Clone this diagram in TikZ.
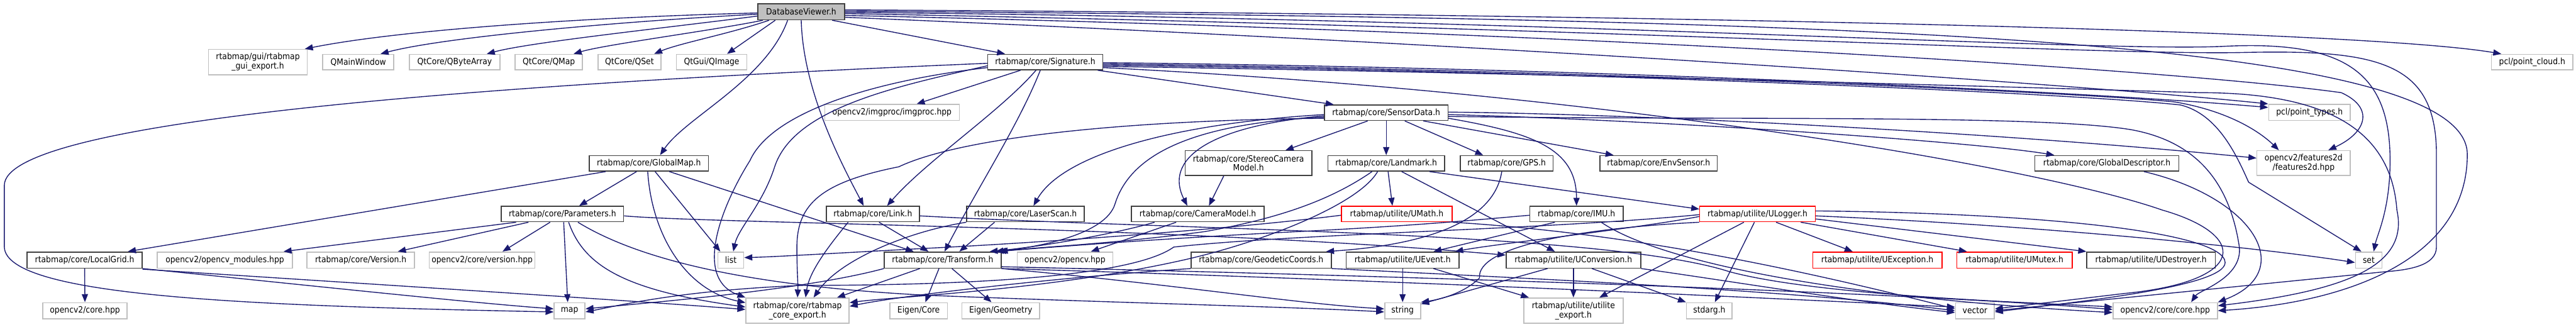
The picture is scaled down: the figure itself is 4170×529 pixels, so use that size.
\documentclass[tikz,border=0pt]{standalone}
\usepackage{fontspec}
\setmainfont{DejaVu Sans Condensed}
\usetikzlibrary{arrows.meta}
\definecolor{edgec}{HTML}{191970}
\definecolor{boxd}{HTML}{404040}
\definecolor{boxl}{HTML}{BFBFBF}
\definecolor{rootf}{HTML}{BFBFBF}
\definecolor{boxr}{HTML}{FF0000}
\newcommand{\nf}{\fontsize{14}{15}\selectfont}
\tikzset{
  box/.style={rectangle, draw=boxd, line width=1.6pt, fill=white, inner sep=0pt, minimum height=25pt, font=\nf, align=center, text=black},
  ext/.style={box, draw=boxl},
  redbox/.style={box, draw=boxr},
  rootbox/.style={box, fill=rootf},
  e/.style={draw=edgec, line width=1.4pt, -{Triangle[length=13pt,width=10pt]}, fill=none},
}
\begin{document}
\begin{tikzpicture}[x=1pt,y=-1pt]
\fill[white] (0,0) rectangle (4170,529);
\useasboundingbox (0,0) rectangle (4170,529);
% row 0
\node[rootbox, minimum width=140pt, minimum height=26pt] (DV) at (1297,19) {DatabaseViewer.h};
% row 1
\node[ext, minimum width=160pt, minimum height=41pt] (gui) at (417.5,100.5) {rtabmap/gui/rtabmap\\\_gui\_export.h};
\node[ext, minimum width=115pt] (qmw) at (580,100.5) {QMainWindow};
\node[ext, minimum width=147pt] (qba) at (736,100.5) {QtCore/QByteArray};
\node[ext, minimum width=109pt] (qmap) at (888.5,100.5) {QtCore/QMap};
\node[ext, minimum width=102pt] (qset) at (1019,100.5) {QtCore/QSet};
\node[ext, minimum width=114pt] (qimg) at (1152,100.5) {QtGui/QImage};
\node[box, minimum width=186pt] (sig) at (1692,100.5) {rtabmap/core/Signature.h};
\node[ext, minimum width=132pt] (pcloud) at (4099,100.5) {pcl/point\_cloud.h};
% row 2
\node[ext, minimum width=218pt, minimum height=26pt] (imgproc) at (1444,182) {opencv2/imgproc/imgproc.hpp};
\node[box, minimum width=200pt] (sd) at (2244,182.5) {rtabmap/core/SensorData.h};
\node[ext, minimum width=132pt, minimum height=26pt] (ptypes) at (3738.5,182) {pcl/point\_types.h};
% row 3
\node[box, minimum width=193pt] (gmap) at (1050.5,264.5) {rtabmap/core/GlobalMap.h};
\node[box, minimum width=205pt, minimum height=40pt] (stereo) at (2021,264) {rtabmap/core/StereoCamera\\Model.h};
\node[box, minimum width=189pt] (landmark) at (2244,264.5) {rtabmap/core/Landmark.h};
\node[box, minimum width=150pt] (gps) at (2439,264.5) {rtabmap/core/GPS.h};
\node[box, minimum width=190pt] (env) at (2685,264.5) {rtabmap/core/EnvSensor.h};
\node[box, minimum width=233pt] (gdesc) at (3410.5,264.5) {rtabmap/core/GlobalDescriptor.h};
\node[ext, minimum width=151pt, minimum height=40pt] (feat2d) at (3729,264) {opencv2/features2d\\/features2d.hpp};
% row 4
\node[box, minimum width=198pt] (params) at (910.5,346.5) {rtabmap/core/Parameters.h};
\node[box, minimum width=151pt] (link) at (1413,346.5) {rtabmap/core/Link.h};
\node[box, minimum width=190pt] (laser) at (1660,346.5) {rtabmap/core/LaserScan.h};
\node[box, minimum width=215pt] (cam) at (1939,346.5) {rtabmap/core/CameraModel.h};
\node[redbox, minimum width=179pt] (umath) at (2261,346.5) {rtabmap/utilite/UMath.h};
\node[box, minimum width=151pt] (imu) at (2552,346.5) {rtabmap/core/IMU.h};
\node[redbox, minimum width=187pt] (ulogger) at (2845,346.5) {rtabmap/utilite/ULogger.h};
% row 5
\node[box, minimum width=186pt, minimum height=26pt] (localgrid) at (137,421) {rtabmap/core/LocalGrid.h};
\node[ext, minimum width=219pt, minimum height=26pt] (opmod) at (364,421) {opencv2/opencv\_modules.hpp};
\node[ext, minimum width=174pt, minimum height=26pt] (version) at (584,421) {rtabmap/core/Version.h};
\node[ext, minimum width=171pt, minimum height=26pt] (verhpp) at (780.5,421) {opencv2/core/version.hpp};
\node[ext, minimum width=42pt, minimum height=26pt] (list) at (1183,421) {list};
\node[box, minimum width=189pt, minimum height=26pt] (transform) at (1526,421) {rtabmap/core/Transform.h};
\node[ext, minimum width=155pt, minimum height=26pt] (opencv) at (1724,421) {opencv2/opencv.hpp};
\node[box, minimum width=227pt, minimum height=26pt] (geo) at (2041.5,421) {rtabmap/core/GeodeticCoords.h};
\node[box, minimum width=183pt, minimum height=26pt] (uevent) at (2270.5,421) {rtabmap/utilite/UEvent.h};
\node[box, minimum width=218pt, minimum height=26pt] (uconv) at (2547,421) {rtabmap/utilite/UConversion.h};
\node[redbox, minimum width=209pt, minimum height=26pt] (uexc) at (3039,421) {rtabmap/utilite/UException.h};
\node[redbox, minimum width=187pt, minimum height=26pt] (umutex) at (3261,421) {rtabmap/utilite/UMutex.h};
\node[box, minimum width=208pt, minimum height=26pt] (udest) at (3482,421) {rtabmap/utilite/UDestroyer.h};
\node[ext, minimum width=43pt, minimum height=26pt] (set) at (3834.5,421) {set};
% row 6
\node[ext, minimum width=136pt, minimum height=26pt] (corehpp) at (137.5,503) {opencv2/core.hpp};
\node[ext, minimum width=50pt, minimum height=26pt] (map) at (922,503) {map};
\node[ext, minimum width=167pt, minimum height=41pt] (coreexp) at (1291,503) {rtabmap/core/rtabmap\\\_core\_export.h};
\node[ext, minimum width=93pt, minimum height=26pt] (eigcore) at (1487,503) {Eigen/Core};
\node[ext, minimum width=126pt, minimum height=26pt] (eiggeo) at (1620,503) {Eigen/Geometry};
\node[ext, minimum width=58pt, minimum height=26pt] (string) at (2270.5,503) {string};
\node[ext, minimum width=161pt, minimum height=41pt] (utexp) at (2547,503) {rtabmap/utilite/utilite\\\_export.h};
\node[ext, minimum width=74pt, minimum height=26pt] (stdarg) at (2767,503) {stdarg.h};
\node[ext, minimum width=63pt, minimum height=26pt] (vector) at (3197,503) {vector};
\node[ext, minimum width=169pt, minimum height=26pt] (cvcore) at (3505,503) {opencv2/core/core.hpp};

% ---- DatabaseViewer.h
\draw[e] ([yshift=-2pt]DV.west) .. controls (950,28) and (650,48) .. ([xshift=76pt]gui.north);
\draw[e] ([yshift=-4pt]DV.west) .. controls (1000,35) and (720,60) .. ([xshift=36pt]qmw.north);
\draw[e] ([yshift=-7pt]DV.west) .. controls (1080,45) and (860,68) .. ([xshift=52pt]qba.north);
\draw[e] ([xshift=-62pt]DV.south) .. controls (1150,50) and (980,72) .. ([xshift=40pt]qmap.north);
\draw[e] ([xshift=-52pt]DV.south) .. controls (1180,55) and (1100,70) .. ([xshift=40pt]qset.north);
\draw[e] ([xshift=-42pt]DV.south) -- ([xshift=25pt]qimg.north);
\draw[e] ([xshift=50pt]DV.south) -- ([xshift=-65pt]sig.north);
\draw[e] ([xshift=-22pt]DV.south) .. controls (1240,130) and (1110,190) .. ([xshift=18pt]gmap.north);
\draw[e] (DV.south) .. controls (1300,150) and (1365,270) .. ([xshift=-15pt]link.north);
\draw[e] ([yshift=3pt]DV.east) .. controls (2500,22) and (3800,45) .. ([xshift=-50pt]pcloud.north);
\draw[e] ([yshift=1pt]DV.east) .. controls (3000,30) and (3994,60) .. (3994,250) .. controls (3994,420) and (3800,490) .. (cvcore.east);
\draw[e] ([yshift=-1pt]DV.east) .. controls (2500,30) and (3400,85) .. (3600,75) .. controls (3800,65) and (3869,120) .. (3869,260) .. controls (3869,340) and (3848,380) .. ([xshift=8pt]set.north);
\draw[e] ([yshift=-3pt]DV.east) .. controls (2600,45) and (3400,90) .. (3630,85) .. controls (3850,80) and (3944,100) .. (3944,250) -- (3944,400) .. controls (3944,430) and (3900,437) .. (3860,440) -- (vector.east);
\draw[e] ([yshift=-6pt]DV.east) .. controls (2500,50) and (3500,110) .. (3790,150) .. controls (3845,175) and (3830,215) .. ([xshift=40pt]feat2d.north);
\draw[e] ([yshift=-9pt]DV.east) .. controls (2500,75) and (3400,140) .. (ptypes.north west);

% ---- Signature.h
\draw[e] ([xshift=-40pt]sig.south) -- ([xshift=40pt]imgproc.north);
\draw[e] ([xshift=85pt]sig.south) -- ([xshift=-85pt]sd.north);
\draw[e] ([yshift=-2pt]sig.west) .. controls (700,140) and (8,200) .. (7,300) -- (7,400) .. controls (10,480) and (400,495) .. ([yshift=-2pt]map.west);
\draw[e] ([yshift=-6pt]sig.west) .. controls (1450,140) and (1285,175) .. (1254,270) .. controls (1235,330) and (1195,370) .. ([xshift=4pt]list.north);
\draw[e] ([yshift=-9pt]sig.west) .. controls (1420,130) and (1250,180) .. (1214,260) .. controls (1170,330) and (1120,450) .. (coreexp.north west);
\draw[e] ([xshift=-15pt]sig.south) .. controls (1620,180) and (1500,260) .. ([xshift=23pt]link.north);
\draw[e] ([xshift=-8pt]sig.south) .. controls (1650,200) and (1585,300) .. ([xshift=3pt]transform.north);
\draw[e] ([yshift=-1pt]sig.east) .. controls (2600,110) and (3400,150) .. ([yshift=8pt]ptypes.west);
\draw[e] ([yshift=-3pt]sig.east) .. controls (2500,112) and (3350,148) .. (3520,165) .. controls (3610,180) and (3660,215) .. ([xshift=-40pt]feat2d.north);
\draw[e] ([yshift=-5pt]sig.east) .. controls (2500,114) and (3350,150) .. (3530,170) .. controls (3590,185) and (3620,250) .. (3640,295) -- ([xshift=-12pt]set.north);
\draw[e] ([yshift=-7pt]sig.east) .. controls (2500,118) and (3400,145) .. (3560,150) .. controls (3750,150) and (3870,200) .. (3880,340) .. controls (3900,430) and (3800,470) .. ([yshift=8pt]cvcore.east);
\draw[e] ([yshift=-9pt]sig.east) .. controls (2600,150) and (3300,270) .. (3500,340) .. controls (3640,380) and (3640,455) .. (3440,475) -- ([yshift=3pt]vector.east);

% ---- SensorData.h
\draw[e] ([xshift=-30pt]sd.south) -- ([xshift=60pt]stereo.north);
\draw[e] (sd.south) -- (landmark.north);
\draw[e] ([xshift=30pt]sd.south) -- ([xshift=-38pt]gps.north);
\draw[e] ([xshift=60pt]sd.south) -- ([xshift=-73pt]env.north);
\draw[e] ([yshift=-9pt]sd.east) .. controls (2480,215) and (2552,240) .. (imu.north);
\draw[e] ([yshift=-3pt]sd.west) .. controls (1900,200) and (1720,250) .. ([xshift=13pt]laser.north);
\draw[e] ([yshift=-5pt]sd.west) .. controls (1950,205) and (1885,260) .. ([xshift=-17pt]cam.north);
\draw[e] ([yshift=-7pt]sd.west) .. controls (1930,200) and (1830,250) .. (1805,330) .. controls (1790,380) and (1680,400) .. ([xshift=-10pt]transform.north east);
\draw[e] ([yshift=-9pt]sd.west) .. controls (1800,195) and (1550,225) .. (1455,270) .. controls (1330,295) and (1290,330) .. (1290,400) .. controls (1290,440) and (1292,460) .. (coreexp.north);
\draw[e] ([yshift=-3pt]sd.east) .. controls (2700,195) and (3200,230) .. ([xshift=-85pt]gdesc.north);
\draw[e] ([yshift=1pt]sd.east) .. controls (2700,185) and (3300,220) .. ([yshift=8pt]feat2d.west);
\draw[e] ([yshift=-6pt]sd.east) .. controls (2800,195) and (3300,185) .. (3450,210) .. controls (3560,230) and (3610,300) .. (3625,400) .. controls (3630,450) and (3560,470) .. ([xshift=42pt]cvcore.north);

% ---- GlobalMap.h
\draw[e] ([xshift=-70pt]gmap.south) -- ([xshift=70pt]localgrid.north);
\draw[e] ([xshift=-20pt]gmap.south) -- ([xshift=27pt]params.north);
\draw[e] ([xshift=10pt]gmap.south) -- ([xshift=-17pt]list.north);
\draw[e] ([xshift=-2pt]gmap.south) .. controls (1055,380) and (1110,470) .. ([yshift=13pt]coreexp.west);
\draw[e] ([xshift=33pt]gmap.south) -- ([xshift=-47pt]transform.north);

% ---- Parameters.h
\draw[e] ([xshift=-75pt]params.south) -- ([xshift=95pt]opmod.north);
\draw[e] ([xshift=-55pt]params.south) -- ([xshift=60pt]version.north);
\draw[e] ([xshift=-20pt]params.south) -- ([xshift=33pt]verhpp.north);
\draw[e] ([xshift=2pt]params.south) -- ([xshift=-3pt]map.north);
\draw[e] ([xshift=10pt]params.south) .. controls (945,430) and (1010,470) .. ([yshift=6pt]coreexp.west);
\draw[e] ([yshift=-3pt]params.east) .. controls (1150,362) and (1900,366) .. ([yshift=8pt]uconv.west);
\draw[e] ([xshift=25pt]params.south) .. controls (1050,430) and (1250,465) .. (1500,478) .. controls (1800,490) and (2100,497) .. ([yshift=-2pt]string.west);

% ---- LocalGrid.h
\draw[e] (localgrid.south) -- (corehpp.north);
\draw[e] (localgrid.south east) .. controls (500,462) and (760,490) .. ([yshift=3pt]map.west);
\draw[e] ([yshift=-1pt]localgrid.south east) .. controls (600,460) and (1000,485) .. ([yshift=2pt]coreexp.west);

% ---- Link.h
\draw[e] ([xshift=-40pt]link.south) .. controls (1340,400) and (1310,440) .. ([xshift=13pt]coreexp.north);
\draw[e] ([xshift=10pt]link.south) -- ([xshift=-23pt]transform.north);
\draw[e] ([yshift=-3pt]link.east) .. controls (1900,372) and (2600,375) .. (2800,440) .. controls (2950,480) and (3300,490) .. ([yshift=6pt]cvcore.west);

% ---- LaserScan.h
\draw[e] (laser.south west) .. controls (1470,375) and (1360,420) .. ([xshift=26pt]coreexp.north);
\draw[e] ([xshift=-50pt]laser.south) -- ([xshift=27pt]transform.north);

% ---- CameraModel.h / StereoCameraModel.h
\draw[e] ([xshift=-70pt]cam.south) .. controls (1800,380) and (1680,400) .. ([xshift=76pt]transform.north);
\draw[e] ([xshift=-35pt]cam.south) -- ([xshift=42pt]opencv.north);
\draw[e] ([xshift=-40pt]stereo.south) -- ([xshift=18pt]cam.north);

% ---- Landmark.h
\draw[e] ([xshift=3pt]landmark.south) -- ([xshift=-7pt]umath.north);
\draw[e] ([xshift=25pt]landmark.south) -- ([xshift=-30pt]uconv.north);
\draw[e] ([xshift=70pt]landmark.south) -- ([yshift=8pt]ulogger.west);
\draw[e] ([xshift=-23pt]landmark.south) .. controls (2160,320) and (2080,352) .. (1950,375) .. controls (1800,395) and (1680,400) .. ([xshift=-3pt]transform.north east);
\draw[e] ([xshift=-14pt]landmark.south) .. controls (2200,330) and (2050,390) .. (1920,420) .. controls (1700,470) and (1450,480) .. ([yshift=13pt]coreexp.east);

% ---- GPS.h
\draw[e] ([xshift=-8pt]gps.south) .. controls (2420,350) and (2330,395) .. ([xshift=105pt]geo.north);

% ---- IMU.h
\draw[e] ([xshift=-35pt]imu.south) -- ([xshift=50pt]uevent.north);
\draw[e] ([yshift=-2pt]imu.west) .. controls (2400,355) and (2300,365) .. (2100,375) .. controls (1900,385) and (1700,400) .. ([xshift=-6pt]transform.north east);
\draw[e] ([xshift=40pt]imu.south) .. controls (2680,420) and (2950,480) .. ([yshift=-3pt]cvcore.west);

% ---- GeodeticCoords.h
\draw[e] (geo.south west) .. controls (1700,450) and (1450,480) .. ([yshift=7pt]coreexp.east);
\draw[e] (geo.south east) .. controls (2500,452) and (2900,470) .. (vector.west);

% ---- UMath.h
\draw[e] ([yshift=-2pt]umath.west) .. controls (2000,370) and (1700,392) .. (1500,402) .. controls (1350,410) and (1250,416) .. ([yshift=4pt]list.east);
\draw[e] (umath.south east) .. controls (2600,375) and (2850,420) .. ([yshift=3pt]vector.west);

% ---- ULogger.h
\draw[e] ([xshift=30pt]ulogger.south) -- ([xshift=-40pt]uexc.north);
\draw[e] ([xshift=70pt]ulogger.south) -- ([xshift=-77pt]umutex.north);
\draw[e] ([yshift=-8pt]ulogger.east) -- (udest.north west);
\draw[e] ([yshift=-4pt]ulogger.west) .. controls (2650,370) and (2420,395) .. ([xshift=85pt]uevent.north);
\draw[e] (ulogger.south west) .. controls (2550,370) and (2390,400) .. (2395,450) .. controls (2370,475) and (2330,485) .. (string.north east);
\draw[e] ([xshift=-22pt]ulogger.south) -- ([xshift=42pt]utexp.north);
\draw[e] ([xshift=-5pt]ulogger.south) -- ([xshift=9pt]stdarg.north);
\draw[e] ([yshift=5pt]ulogger.east) .. controls (3300,345) and (3600,375) .. (3602,425) .. controls (3602,465) and (3350,490) .. ([yshift=-2pt]vector.east);
\draw[e] ([yshift=-3pt]ulogger.east) .. controls (3300,365) and (3650,400) .. ([yshift=-4pt]set.west);
\draw[e] ([yshift=-1pt]ulogger.west) .. controls (2500,372) and (2100,378) .. (1900,400) .. controls (1830,450) and (1550,462) .. (1300,462) .. controls (1100,470) and (1000,495) .. ([yshift=-2pt]map.east);

% ---- UEvent.h
\draw[e] (uevent.south) -- (string.north);
\draw[e] ([xshift=50pt]uevent.south) -- ([xshift=-72pt]utexp.north);

% ---- UConversion.h
\draw[e] ([xshift=-42pt]uconv.south) -- ([yshift=-3pt]string.north east);
\draw[e] (uconv.south) -- (utexp.north);
\draw[e] ([xshift=30pt]uconv.south) -- (stdarg.north west);
\draw[e] (uconv.south east) .. controls (2800,455) and (3000,488) .. ([yshift=-3pt]vector.west);

% ---- Transform.h
\draw[e] ([xshift=-37pt]transform.south) -- ([xshift=64pt]coreexp.north);
\draw[e] ([xshift=-6pt]transform.south) -- ([xshift=11pt]eigcore.north);
\draw[e] ([xshift=15pt]transform.south) -- ([xshift=-15pt]eiggeo.north);
\draw[e] (transform.south west) .. controls (1300,470) and (1050,490) .. ([yshift=3pt]map.east);
\draw[e] (transform.south east) .. controls (1900,460) and (2100,492) .. ([yshift=3pt]string.west);
\draw[e] (transform.south east) .. controls (2300,455) and (2900,485) .. ([yshift=6pt]vector.west);
\draw[e] ([yshift=3pt]transform.south east) .. controls (2400,450) and (3100,475) .. ([yshift=2pt]cvcore.west);

% ---- GlobalDescriptor.h
\draw[e] ([xshift=60pt]gdesc.south) .. controls (3650,320) and (3720,440) .. (cvcore.north east);
\end{tikzpicture}
\end{document}
